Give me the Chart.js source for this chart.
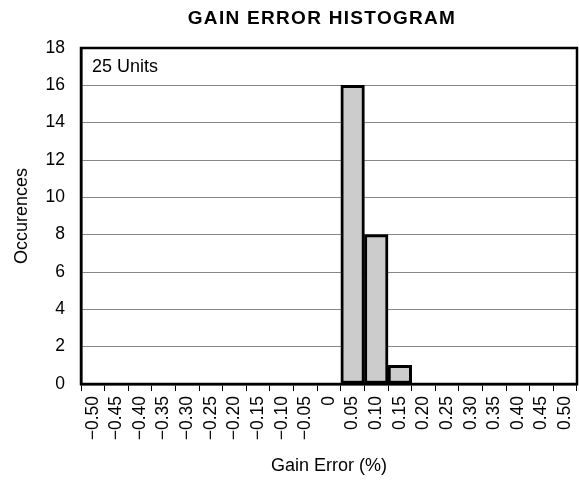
<!DOCTYPE html>
<html>
<head>
<meta charset="utf-8">
<script src="https://cdn.jsdelivr.net/npm/chart.js@4/dist/chart.umd.min.js"></script>
<style>
html,body{margin:0;padding:0;background:#fff;}
#wrap{width:579px;height:481px;position:relative;}
</style>
</head>
<body>
<div id="wrap"><canvas id="c" width="579" height="481"></canvas></div>
<script>
const categories = ["\u22120.50","\u22120.45","\u22120.40","\u22120.35","\u22120.30","\u22120.25","\u22120.20","\u22120.15","\u22120.10","\u22120.05","0","0.05","0.10","0.15","0.20","0.25","0.30","0.35","0.40","0.45","0.50"];
const occurrences = [0,0,0,0,0,0,0,0,0,0,0,16,8,1,0,0,0,0,0,0,0];
const yTicks = [0,2,4,6,8,10,12,14,16,18];
const chartTitle = "GAIN ERROR HISTOGRAM";
const xTitle = "Gain Error (%)";
const yTitle = "Occurences";
const note = "25 Units";

const FONT = "'Liberation Sans', Arial, sans-serif";

const framePlugin = {
  id: 'frame',
  afterDatasetsDraw(chart) {
    const a = chart.chartArea, ctx = chart.ctx;
    ctx.save();
    ctx.strokeStyle = '#000';
    ctx.lineWidth = 2.5;
    ctx.strokeRect(a.left, a.top, a.right - a.left, a.bottom - a.top);
    ctx.fillStyle = '#000';
    ctx.font = "18px " + FONT;
    ctx.textBaseline = 'middle';
    ctx.textAlign = 'left';
    ctx.fillText(note, a.left + 11, a.top + 19);
    // chart title
    ctx.font = "bold 19px " + FONT;
    ctx.textAlign = 'center';
    try { ctx.letterSpacing = '1.3px'; } catch (e) {}
    ctx.fillText(chartTitle, 322, 19);
    try { ctx.letterSpacing = '0px'; } catch (e) {}
    ctx.restore();
  }
};

new Chart(document.getElementById('c'), {
  type: 'bar',
  data: {
    labels: categories,
    datasets: [{
      data: occurrences,
      backgroundColor: '#cccccc',
      borderColor: '#000',
      borderWidth: 3,
      borderSkipped: false,
      barPercentage: 1,
      categoryPercentage: 1
    }]
  },
  options: {
    responsive: false,
    animation: false,
    devicePixelRatio: 1,
    layout: { padding: { left: 0, right: 2, top: 48, bottom: 0 } },
    plugins: {
      legend: { display: false },
      tooltip: { enabled: false },
      title: { display: false }
    },
    scales: {
      x: {
        offset: true,
        grid: { offset: true, drawOnChartArea: false, drawTicks: true, tickLength: 7, color: '#000', lineWidth: 1 },
        border: { display: true, color: '#000', width: 2.5 },
        ticks: { autoSkip: false, maxRotation: 90, minRotation: 90, color: '#000', padding: 5, font: { family: FONT, size: 17.5 } },
        title: { display: true, text: xTitle, color: '#000', font: { family: FONT, size: 18 }, padding: { top: 0, bottom: 4 } },
        afterFit(s) { s.height = 97; s.paddingLeft = 0; s.paddingRight = 0; }
      },
      y: {
        min: 0, max: 18,
        afterBuildTicks(s) { s.ticks = yTicks.map(v => ({ value: v })); },
        grid: { drawTicks: false, color: '#888', lineWidth: 1 },
        border: { display: true, color: '#000', width: 2.5 },
        ticks: { color: '#000', padding: 16, font: { family: FONT, size: 17.5 } },
        title: { display: true, text: yTitle, color: '#000', font: { family: FONT, size: 18 }, padding: { top: 11, bottom: 0 } },
        afterFit(s) { s.width = 81; s.paddingTop = 0; s.paddingBottom = 0; }
      }
    }
  },
  plugins: [framePlugin]
});
</script>
</body>
</html>
